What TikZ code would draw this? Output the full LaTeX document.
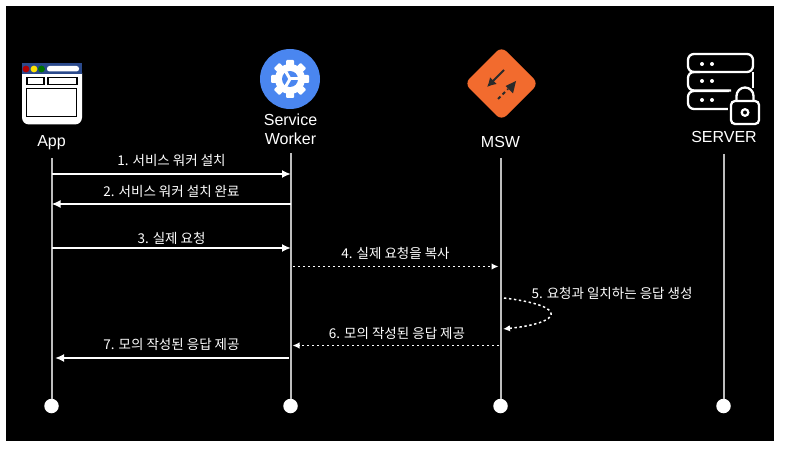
\documentclass[tikz,border=0pt]{standalone}
\usepackage{fontspec}
\usepackage{xcolor}
\usetikzlibrary{arrows.meta}
\setmainfont{Liberation Sans}
\newfontfamily\krfont{Noto Sans CJK KR}
\definecolor{swblue}{HTML}{4A86F0}
\definecolor{mswred}{HTML}{F26B2E}
\definecolor{barblue}{HTML}{2B4A8C}
\definecolor{lifegray}{HTML}{BDBDBD}
\definecolor{arrowdark}{HTML}{2A2A2A}

\begin{document}
\begin{tikzpicture}[
  x=1pt,y=-1pt,
  actor/.style={text=white,font=\fontsize{16}{19}\selectfont,align=center,inner sep=0pt},
  msgtext/.style={text=white,font=\fontsize{13.5}{15}\selectfont\krfont,inner sep=0pt},
  lifeline/.style={draw=lifegray,line width=2pt},
  enddot/.style={circle,fill=white,minimum size=14.5pt,inner sep=0pt},
  msg/.style={draw=white,line width=2pt,-{Latex[length=9pt,width=8pt]}},
  dotmsg/.style={draw=white,line width=1.5pt,dash pattern=on 2.4pt off 2.6pt,-{Latex[length=7pt,width=6.5pt]}},
  icoline/.style={draw=white,line width=2.3pt,rounded corners=6pt},
]
\useasboundingbox (0,0) rectangle (802,457);
\fill[white] (0,0) rectangle (802,457);
\fill[black] (6,6) rectangle (774,441);

% app icon
\fill[white,rounded corners=7pt] (22,66) rectangle (82,124.5);
\fill[barblue] (22,63.5) rectangle (82,74);
\fill[red!70!black] (26,69) circle (3.4);
\fill[yellow!85!orange] (34,69) circle (3.4);
\fill[green!45!black] (41.5,69) circle (3.4);
\fill[white,rounded corners=2.5pt] (47,66) rectangle (79,71.5);
\draw[black,line width=1.4pt] (27,77.5) rectangle (44,84.5);
\draw[black,line width=1.4pt] (48,77.5) rectangle (77,84.5);
\draw[black,line width=1.4pt] (26.5,88.5) rectangle (76.5,116.5);

% service worker icon
\fill[swblue] (290,79) circle (30);
\fill[white] (290,79) circle (15);
\foreach \a in {0,45,...,315}
  \fill[white,rounded corners=1pt,rotate around={\a:(290,79)}] (286,60) rectangle (294,68);
\fill[swblue] (290,79) circle (8);
\foreach \a in {0,120,240}
  \draw[white,line width=3pt] (290,79) -- ++(\a:9);

% msw icon
\fill[mswred,rounded corners=7pt] (501.5,46.5) -- (538.5,83.5) -- (501.5,120.5) -- (464.5,83.5) -- cycle;
\draw[arrowdark,line width=1.8pt,-{Latex[length=9pt,width=10pt]}] (504,70) -- (487,87);
\draw[arrowdark,line width=1.8pt,dash pattern=on 3.5pt off 3pt] (498,99) -- (508,89);
\fill[arrowdark] (516,81) -- (505.5,86) -- (513,93.5) -- cycle;

% server icon
\draw[icoline] (688,54) rectangle (753,72);
\draw[icoline] (753,72) -- (753,88);
\draw[icoline] (731,90.5) -- (688,90.5) -- (688,72) -- (700,72);
\draw[icoline] (730,109) -- (688,109) -- (688,91) -- (729,91);
\foreach \y in {64,81,100} {
  \fill[white] (702,\y) circle (2);
  \fill[white] (712,\y) circle (2);
}
\fill[black] (728,99) rectangle (762,126);
\draw[white,line width=2.3pt,rounded corners=4pt] (731,101) rectangle (759,124);
\draw[white,line width=2.3pt] (736.5,101) -- (736.5,96) arc (180:360:8.5 and 8.5) -- (753.5,101);
\draw[white,line width=2.2pt] (745,112.5) circle (3.3);

% actor names
\node[actor] (applabel) at (51.5,143) {App};
\node[actor] (swlabel) at (290.5,129.5) {Service\\Worker};
\node[actor] (mswlabel) at (500.5,142) {MSW};
\node[actor] (srvlabel) at (724,137) {SERVER};

% lifelines
\coordinate (apptop) at (51.5,158);
\coordinate (swtop) at (290.5,153);
\coordinate (mswtop) at (500.5,158);
\coordinate (srvtop) at (723.5,154);
\node[enddot] (append) at (51.5,406) {};
\node[enddot] (swend) at (290.5,406) {};
\node[enddot] (mswend) at (500.5,406) {};
\node[enddot] (srvend) at (723.5,406) {};
\draw[lifeline] (apptop) -- (append);
\draw[lifeline] (swtop) -- (swend);
\draw[lifeline] (mswtop) -- (mswend);
\draw[lifeline] (srvtop) -- (srvend);

% messages
\coordinate (a1) at (51.5,174); \coordinate (s1) at (291,174);
\coordinate (s2) at (291,204); \coordinate (a2) at (51.5,204);
\coordinate (a3) at (51.5,248); \coordinate (s3) at (291,248);
\coordinate (s4) at (293,266.5); \coordinate (m4) at (498.5,266.5);
\coordinate (m5a) at (504,298); \coordinate (m5b) at (503,329);
\coordinate (m6) at (499,345.5); \coordinate (s6) at (292.5,345.5);
\coordinate (s7) at (288.5,358); \coordinate (a7) at (55,358);
\draw[msg] (a1) -- (s1);
\draw[msg] (s2) -- (a2);
\draw[msg] (a3) -- (s3);
\draw[dotmsg] (s4) -- (m4);
\draw[dotmsg] (m5a) .. controls (570,306) and (562,323) .. (m5b);
\draw[dotmsg] (m6) -- (s6);
\draw[msg] (s7) -- (a7);

\node[msgtext] (t1) at (171.5,160.5) {1. 서비스 워커 설치};
\node[msgtext] (t2) at (171.5,191.5) {2. 서비스 워커 설치 완료};
\node[msgtext] (t3) at (171.5,238.5) {3. 실제 요청};
\node[msgtext] (t4) at (395.5,253.5) {4. 실제 요청을 복사};
\node[msgtext] (t5) at (612,293.5) {5. 요청과 일치하는 응답 생성};
\node[msgtext] (t6) at (397,333) {6. 모의 작성된 응답 제공};
\node[msgtext] (t7) at (171.5,344.5) {7. 모의 작성된 응답 제공};
\end{tikzpicture}
\end{document}
